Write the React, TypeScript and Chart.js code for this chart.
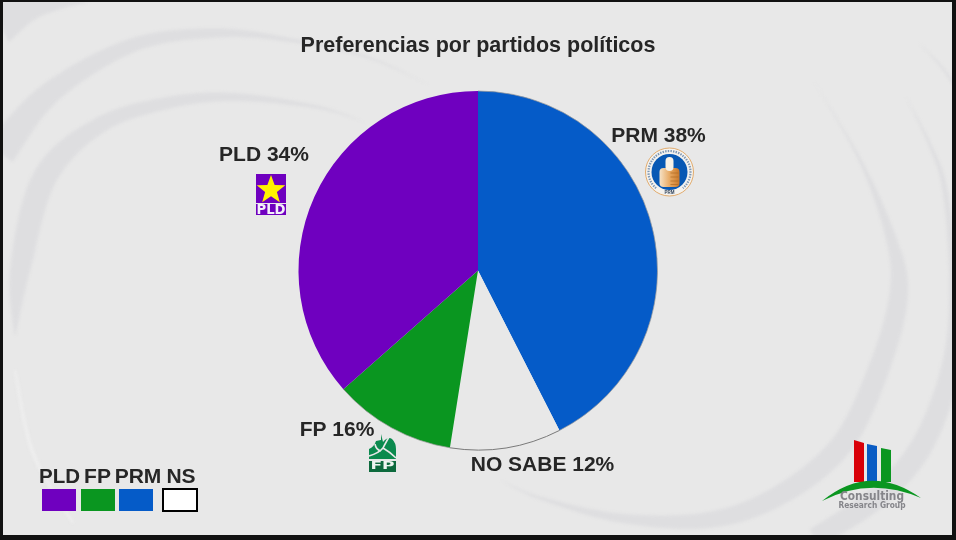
import React, { useEffect, useRef } from "react";
import { Chart, registerables } from "chart.js";

Chart.register(...registerables);

const chartTitle = "Preferencias por partidos políticos";
const categories = ["PRM", "NO SABE", "FP", "PLD"];
// Angular shares as actually drawn in the picture (they differ from the printed labels)
const sliceShares = [42.5, 10, 11, 36.5];
const labelledPercents = [38, 12, 16, 34];
const sliceColors = ["#055bc8", "#e8e8e8", "#0a9620", "#6f00bf"];
const legendNames = ["PLD", "FP", "PRM", "NS"];
const legendColors = ["#6f00bf", "#0a9620", "#055bc8", "#ffffff"];

const FONT = '"Liberation Sans", Arial, sans-serif';
const INK = "#262626";
const PANEL = "#e8e8e8";

// Decoration only: background swooshes as [x, y, width]
type P = [number, number, number];
const BAND = "#dedee0";
const swooshes: { c: string; pts: P[] }[] = [
  { c: BAND, pts: [[813, 80, 0], [860, 160, 3], [890, 235, 10], [899, 290, 18], [882, 360, 21], [843, 443, 22], [780, 495, 20], [709, 520, 16], [620, 518, 9], [540, 498, 3], [500, 480, 0]] },
  { c: BAND, pts: [[905, 95, 0], [930, 145, 3], [945, 190, 5], [953, 280, 8], [952, 360, 18], [925, 440, 22], [880, 495, 22], [815, 538, 20]] },
  { c: BAND, pts: [[919, 43, 0], [940, 65, 2], [955, 85, 3]] },
  { c: BAND, pts: [[0, 152, 32], [50, 93, 22], [133, 45, 14], [217, 33, 9], [290, 40, 4], [367, 57, 2], [433, 87, 0]] },
  { c: BAND, pts: [[15, 335, 1], [20, 270, 20], [45, 177, 24], [100, 125, 16], [167, 103, 12], [233, 97, 8], [317, 107, 3], [367, 123, 0]] },
  { c: "#efefef", pts: [[15, 370, 2], [33, 453, 3], [73, 523, 2]] },
  { c: BAND, pts: [[0, 22, 44], [30, 10, 22], [60, 4, 10], [90, 2, 0]] },
];

function drawSwoosh(ctx: CanvasRenderingContext2D, pts: P[], color: string) {
  const sampled: P[] = [];
  for (let i = 0; i < pts.length - 1; i++) {
    const p0 = pts[Math.max(i - 1, 0)];
    const p1 = pts[i];
    const p2 = pts[i + 1];
    const p3 = pts[Math.min(i + 2, pts.length - 1)];
    for (let s = 0; s < 12; s++) {
      const t = s / 12;
      const cr = (k: number) =>
        0.5 * (2 * p1[k] + (p2[k] - p0[k]) * t + (2 * p0[k] - 5 * p1[k] + 4 * p2[k] - p3[k]) * t * t + (3 * p1[k] - p0[k] - 3 * p2[k] + p3[k]) * t * t * t);
      sampled.push([cr(0), cr(1), Math.max(cr(2), 0)]);
    }
  }
  sampled.push(pts[pts.length - 1]);
  const left: number[][] = [];
  const right: number[][] = [];
  sampled.forEach((p, i) => {
    const a = sampled[Math.max(i - 1, 0)];
    const b = sampled[Math.min(i + 1, sampled.length - 1)];
    const dx = b[0] - a[0];
    const dy = b[1] - a[1];
    const len = Math.hypot(dx, dy) || 1;
    left.push([p[0] - (dy / len) * p[2] / 2, p[1] + (dx / len) * p[2] / 2]);
    right.push([p[0] + (dy / len) * p[2] / 2, p[1] - (dx / len) * p[2] / 2]);
  });
  ctx.beginPath();
  left.forEach((p, i) => (i ? ctx.lineTo(p[0], p[1]) : ctx.moveTo(p[0], p[1])));
  right.reverse().forEach((p) => ctx.lineTo(p[0], p[1]));
  ctx.closePath();
  ctx.fillStyle = color;
  ctx.fill();
}

function text(ctx: CanvasRenderingContext2D, s: string, x: number, y: number, size: number, color = INK, family = FONT, maxW?: number) {
  ctx.font = `bold ${size}px ${family}`;
  ctx.fillStyle = color;
  ctx.textAlign = "center";
  ctx.textBaseline = "middle";
  if (maxW) ctx.fillText(s, x, y, maxW);
  else ctx.fillText(s, x, y);
}

function poly(ctx: CanvasRenderingContext2D, pts: number[][], color: string) {
  ctx.beginPath();
  pts.forEach((p, i) => (i ? ctx.lineTo(p[0], p[1]) : ctx.moveTo(p[0], p[1])));
  ctx.closePath();
  ctx.fillStyle = color;
  ctx.fill();
}

function drawPldLogo(ctx: CanvasRenderingContext2D) {
  ctx.fillStyle = "#6f00bf";
  ctx.fillRect(256, 174, 30, 41);
  ctx.fillStyle = PANEL;
  ctx.fillRect(256, 203, 30, 1);
  const star: number[][] = [];
  for (let i = 0; i < 10; i++) {
    const r = i % 2 ? 6.2 : 15;
    const a = -Math.PI / 2 + (i * Math.PI) / 5;
    star.push([271 + r * Math.cos(a), 190 + r * Math.sin(a)]);
  }
  poly(ctx, star, "#fff200");
  text(ctx, "PLD", 271, 210, 13.5, "#f4f0fa", '"DejaVu Sans", sans-serif', 29);
}

function drawPrmLogo(ctx: CanvasRenderingContext2D) {
  const cx = 669.5;
  const cy = 172;
  ctx.beginPath();
  ctx.arc(cx, cy, 24, 0, Math.PI * 2);
  ctx.fillStyle = "#f4f2ee";
  ctx.fill();
  ctx.strokeStyle = "#e2ac6e";
  ctx.lineWidth = 1;
  ctx.stroke();
  ctx.beginPath();
  ctx.arc(cx, cy, 21, Math.PI * 0.72, Math.PI * 2.28);
  ctx.strokeStyle = "#7d97b5";
  ctx.lineWidth = 2.2;
  ctx.setLineDash([1.4, 1.2]);
  ctx.stroke();
  ctx.setLineDash([]);
  ctx.beginPath();
  ctx.arc(cx, cy, 18, 0, Math.PI * 2);
  ctx.fillStyle = "#0758b4";
  ctx.fill();
  const g = ctx.createLinearGradient(cx - 10, 0, cx + 10, 0);
  g.addColorStop(0, "#f6e2c6");
  g.addColorStop(0.55, "#e6a55c");
  g.addColorStop(1, "#c9782a");
  ctx.fillStyle = g;
  ctx.beginPath();
  ctx.roundRect(cx - 10, cy - 4, 20, 19, 4);
  ctx.fill();
  ctx.fillStyle = "#f8f1e6";
  ctx.beginPath();
  ctx.roundRect(cx - 4, cy - 15, 8, 14, 4);
  ctx.fill();
  ctx.strokeStyle = "#b06a22";
  ctx.lineWidth = 0.7;
  [1, 5, 9, 12.5].forEach((d) => {
    ctx.beginPath();
    ctx.moveTo(cx + 1, cy + d);
    ctx.lineTo(cx + 9, cy + d);
    ctx.stroke();
  });
  text(ctx, "PRM", cx, cy + 21, 4.5, "#33465e");
}

function drawFpLogo(ctx: CanvasRenderingContext2D) {
  const G = "#0b8a4e";
  ctx.fillStyle = G;
  ctx.beginPath();
  ctx.moveTo(369, 459);
  ctx.lineTo(369, 449);
  ctx.quadraticCurveTo(374, 447, 376, 441);
  ctx.lineTo(381, 440);
  ctx.lineTo(381, 434);
  ctx.lineTo(383, 442);
  ctx.quadraticCurveTo(388, 436, 392, 439);
  ctx.quadraticCurveTo(396, 443, 396, 449);
  ctx.lineTo(396, 459);
  ctx.closePath();
  ctx.fill();
  ctx.strokeStyle = PANEL;
  ctx.lineWidth = 1.6;
  ctx.beginPath();
  ctx.moveTo(369, 456);
  ctx.quadraticCurveTo(379, 453, 383, 448);
  ctx.quadraticCurveTo(385, 444, 389, 437);
  ctx.moveTo(383, 448);
  ctx.quadraticCurveTo(390, 452, 396, 458);
  ctx.moveTo(375, 444);
  ctx.quadraticCurveTo(376, 450, 381, 451);
  ctx.stroke();
  ctx.fillStyle = "#0d6a3d";
  ctx.fillRect(369, 461, 27, 11);
  ctx.save();
  ctx.translate(382.5, 466.8);
  ctx.scale(1.7, 1);
  text(ctx, "FP", 0, 0, 10, "#eef5f0", '"DejaVu Sans", sans-serif');
  ctx.restore();
}

function drawCrgLogo(ctx: CanvasRenderingContext2D) {
  poly(ctx, [[854, 440], [864, 443], [864, 482], [854, 482]], "#d90008");
  poly(ctx, [[867, 444], [877, 446], [877, 482], [867, 482]], "#0a5cc4");
  poly(ctx, [[881, 448], [891, 450], [891, 482], [881, 482]], "#0a9620");
  ctx.beginPath();
  ctx.moveTo(822, 501);
  ctx.quadraticCurveTo(870, 462, 921, 498);
  ctx.quadraticCurveTo(870, 476, 822, 501);
  ctx.closePath();
  ctx.fillStyle = "#0a9620";
  ctx.fill();
  text(ctx, "Consulting", 872, 497, 11.5, "#85858a", '"DejaVu Sans", sans-serif', 64);
  text(ctx, "Research Group", 872, 506, 8, "#85858a", '"DejaVu Sans", sans-serif', 67);
}

const backdrop = {
  id: "backdrop",
  beforeDraw(chart: any) {
    const { ctx, width, height } = chart;
    ctx.save();
    ctx.fillStyle = "#111111";
    ctx.fillRect(0, 0, width, height);
    ctx.beginPath();
    ctx.rect(3, 2, 949, 533);
    ctx.clip();
    ctx.fillStyle = PANEL;
    ctx.fillRect(3, 2, 949, 533);
    ctx.filter = "blur(1.5px)";
    swooshes.forEach((s) => drawSwoosh(ctx, s.pts, s.c));
    ctx.filter = "none";
    ctx.restore();
  },
};

const annotations = {
  id: "annotations",
  afterDatasetsDraw(chart: any) {
    const { ctx } = chart;
    ctx.save();
    // thin grey rim along the pie's outer edge
    chart.getDatasetMeta(0).data.forEach((arc: any, i: number) => {
      if (i === 3) return;
      ctx.beginPath();
      ctx.arc(arc.x, arc.y, arc.outerRadius, arc.startAngle, arc.endAngle);
      ctx.strokeStyle = i === 1 ? "#7a7a7a" : "#9a9a9a";
      ctx.lineWidth = i === 1 ? 1 : 0.7;
      ctx.stroke();
    });
    const sliceLabel = (i: number) => `${categories[i]} ${labelledPercents[i]}%`;
    text(ctx, sliceLabel(3), 264, 155, 21);
    text(ctx, sliceLabel(0), 658.5, 136, 21);
    text(ctx, sliceLabel(2), 337, 430, 21);
    text(ctx, sliceLabel(1), 542.5, 465, 21);

    drawPldLogo(ctx);
    drawPrmLogo(ctx);
    drawFpLogo(ctx);
    drawCrgLogo(ctx);

    // legend: names above their swatches
    const names = [59.5, 97.5, 138, 181];
    const boxes = [[42, 489, 34, 22], [81, 489, 34, 22], [119, 489, 34, 22], [163, 489, 34, 22]];
    legendNames.forEach((n, i) => {
      text(ctx, n, names[i], 477, 21, INK, FONT, i === 0 ? 41 : undefined);
      const [x, y, w, h] = boxes[i];
      ctx.fillStyle = legendColors[i];
      ctx.fillRect(x, y, w, h);
      if (n === "NS") {
        ctx.strokeStyle = "#000000";
        ctx.lineWidth = 2;
        ctx.strokeRect(x, y, w, h);
      }
    });
    ctx.restore();
  },
};

export default function App() {
  const ref = useRef<HTMLCanvasElement>(null);
  useEffect(() => {
    const chart = new Chart(ref.current as HTMLCanvasElement, {
      type: "pie",
      data: {
        labels: categories,
        datasets: [{ data: sliceShares, backgroundColor: sliceColors, borderWidth: 0 }],
      },
      options: {
        responsive: false,
        animation: false,
        devicePixelRatio: 1,
        layout: { padding: { left: 100, right: 100, top: 0, bottom: 90 } },
        plugins: {
          legend: { display: false },
          tooltip: { enabled: false },
          title: {
            display: true,
            text: chartTitle,
            color: INK,
            font: { family: FONT, size: 21.5, weight: "bold", lineHeight: 1.2 },
            padding: { top: 33.1, bottom: 32.1 },
          },
        },
      },
      plugins: [backdrop, annotations],
    } as any);
    return () => chart.destroy();
  }, []);
  return (
    <div style={{ position: "fixed", left: 0, top: 0, width: 956, height: 540 }}>
      <canvas ref={ref} width={956} height={540} style={{ display: "block" }} />
    </div>
  );
}
